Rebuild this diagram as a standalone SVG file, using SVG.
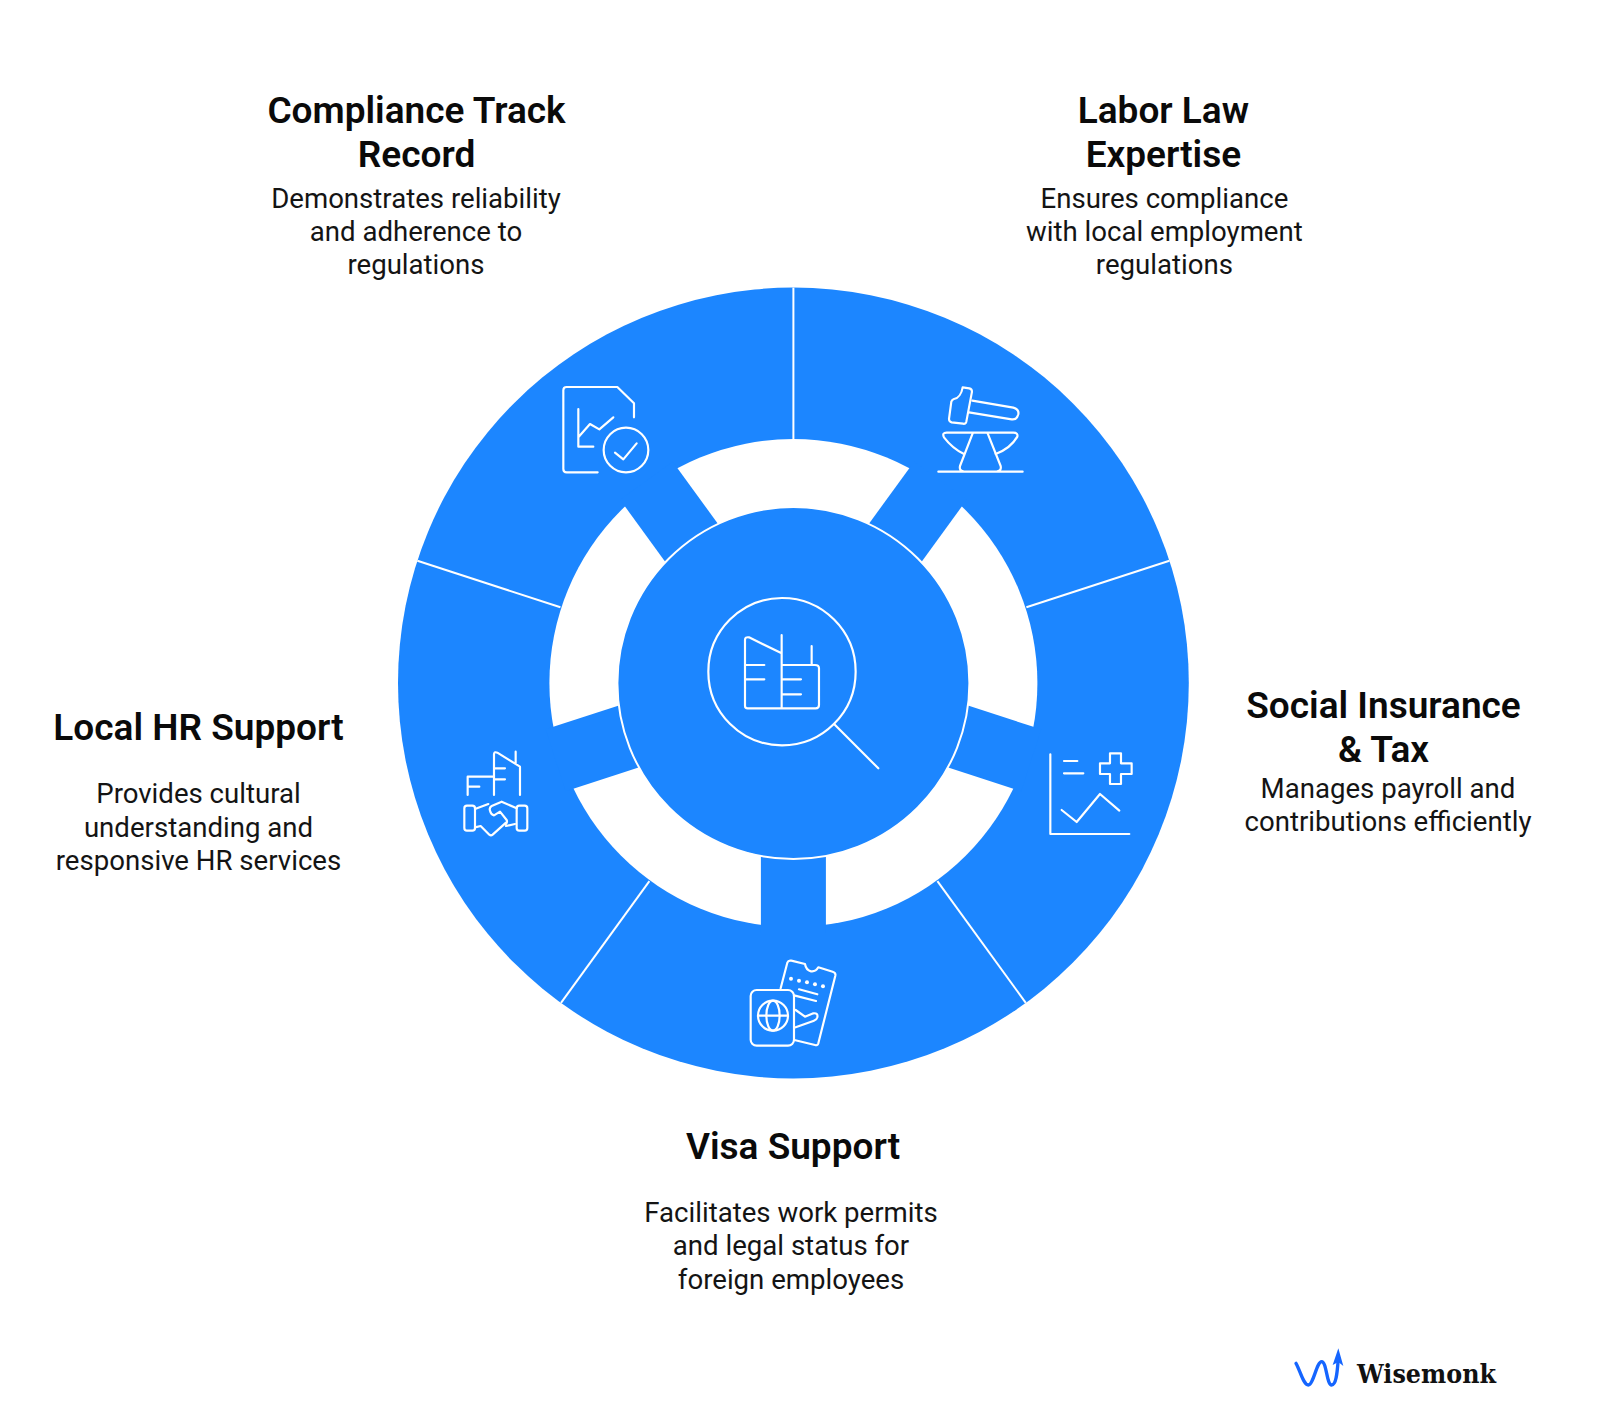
<svg xmlns="http://www.w3.org/2000/svg" width="1600" height="1426" viewBox="0 0 1600 1426">
<style>
.t{font-family:Roboto,"Liberation Sans",sans-serif;font-weight:600;font-size:37px;fill:#0a0a0a;text-anchor:middle}
.b{font-family:Roboto,"Liberation Sans",sans-serif;font-weight:400;font-size:27.6px;fill:#141414;text-anchor:middle}
.i{fill:none;stroke:#fff;stroke-width:6.5;stroke-linecap:round;stroke-linejoin:round}
.d{stroke:#fff;stroke-width:2;fill:none}
</style>
<rect width="1600" height="1426" fill="#fff"/>
<g id="wheel">
<circle cx="793.4" cy="683" r="395.4" fill="#1C86FF"/>
<circle cx="793.4" cy="683" r="244" fill="#fff"/>
</g>
<g id="connectors">
<g fill="#1C86FF">
<rect x="0" y="-32.5" width="250" height="65" transform="translate(793.4 683) rotate(-54)"/>
<rect x="0" y="-32.5" width="250" height="65" transform="translate(793.4 683) rotate(18)"/>
<rect x="0" y="-32.5" width="250" height="65" transform="translate(793.4 683) rotate(90)"/>
<rect x="0" y="-32.5" width="250" height="65" transform="translate(793.4 683) rotate(162)"/>
<rect x="0" y="-32.5" width="250" height="65" transform="translate(793.4 683) rotate(234)"/>
</g>
<g class="d">
<line x1="793.4" y1="287.6" x2="793.4" y2="440"/>
<line x1="1169.4" y1="560.8" x2="1026.4" y2="607.3"/>
<line x1="1025.8" y1="1002.9" x2="937.4" y2="881.2"/>
<line x1="561" y1="1002.9" x2="649.4" y2="881.2"/>
<line x1="417.4" y1="560.8" x2="560.4" y2="607.3"/>
</g>
</g>
<g id="hub">
<circle cx="793.4" cy="683" r="176" fill="#1C86FF" stroke="#fff" stroke-width="2"/>
<g class="i" transform="translate(680 580) scale(.3333)">
<circle cx="306" cy="275" r="221"/>
<path d="M463 433L595 565"/>
<path d="M305 385H203q-8 0-8-8V180q0-10 12-8L305 220M305 165V385M305 255H405q12 0 12 10V375q0 10-10 10H305M395 198V255M195 255H253M195 298H253M305 298H363M305 343H363"/>
</g>
</g>
<g id="node-compliance">
<g class="i" transform="translate(520 360) scale(.3333)">
<path d="M233 337H140q-10 0-10-10V91q0-10 10-10H292L342 130V172"/>
<path d="M175 147V260H220M175 232L210 192L238 208L280 172"/>
<circle cx="318" cy="270" r="67"/>
<path d="M285 278L310 298L350 250"/>
</g>
<text class="t"><tspan x="416.5" y="123">Compliance Track</tspan><tspan x="416.5" y="167">Record</tspan></text>
<text class="b"><tspan x="416" y="208">Demonstrates reliability</tspan><tspan x="416" y="241">and adherence to</tspan><tspan x="416" y="274">regulations</tspan></text>
</g>
<g id="node-labor">
<g class="i" transform="translate(900 360) scale(.3333)">
<path d="M188 82L208 85q8 2 8 10L199 185q-2 8-10 6L155 187q-8-2-8-10L154 125q2-6 8-8C175 115 185 100 188 82Z"/>
<path d="M217 122L340 143q18 5 15 20q-4 17-20 15L207 157"/>
<path d="M140 218H340q15 0 12 12q-20 35-65 52M140 218q-15 0-8 14q25 33 60 50"/>
<path d="M218 220L180 318q-3 14 10 16M263 220L302 318q3 14-10 16M115 335H368"/>
</g>
<text class="t"><tspan x="1163.4" y="123">Labor Law</tspan><tspan x="1163.4" y="167">Expertise</tspan></text>
<text class="b"><tspan x="1164.4" y="208">Ensures compliance</tspan><tspan x="1164.4" y="241">with local employment</tspan><tspan x="1164.4" y="274">regulations</tspan></text>
</g>
<g id="node-social">
<g class="i" transform="translate(1020 730) scale(.3333)">
<path d="M91 73V312H328M132 93H172M132 130H190"/>
<path d="M270 70H303V100H335V132H303V162H270V132H240V100H270Z"/>
<path d="M125 240L170 276L240 192L298 242"/>
</g>
<text class="t"><tspan x="1383.5" y="717.5">Social Insurance</tspan><tspan x="1383.5" y="761.5">&amp; Tax</tspan></text>
<text class="b"><tspan x="1388" y="798">Manages payroll and</tspan><tspan x="1388" y="831">contributions efficiently</tspan></text>
</g>
<g id="node-visa">
<g class="i" transform="translate(730 950) scale(.3333)">
<rect x="62" y="120" width="130" height="167" rx="18"/>
<circle cx="129" cy="197" r="45"/>
<ellipse cx="129" cy="197" rx="20" ry="45"/>
<path d="M84 197H174"/>
<path d="M152 115L172 38q3-8 12-6L225 42q3 18 18 22q14 2 22-12L308 65q10 3 8 12L265 280q-3 8-10 5L193 270"/>
<path d="M207 118L262 133M192 136L258 153M197 180L225 200L250 190q15-2 12 12q-2 8-10 10L197 232"/>
<g fill="#fff" stroke="none"><circle cx="183" cy="86" r="6"/><circle cx="207" cy="92" r="6"/><circle cx="231" cy="97" r="6"/><circle cx="255" cy="103" r="6"/><circle cx="279" cy="109" r="6"/></g>
</g>
<text class="t"><tspan x="793" y="1159">Visa Support</tspan></text>
<text class="b"><tspan x="791" y="1222">Facilitates work permits</tspan><tspan x="791" y="1255">and legal status for</tspan><tspan x="791" y="1289">foreign employees</tspan></text>
</g>
<g id="node-hr">
<g class="i" transform="translate(450 740) scale(.3333)">
<path d="M53 165V110H88M53 140H88M132 165V42q2-8 10-4L210 80V165M197 35V72M132 85H165M132 118H165M88 110H132"/>
<rect x="43" y="197" width="32" height="75" rx="8"/>
<rect x="200" y="197" width="32" height="75" rx="8"/>
<path d="M75 207L115 192M75 262L92 258L118 284q5 4 10 0L168 248M200 205L155 185L125 198q-8 5-5 14q3 12 12 14L150 215L170 240q3 8-3 12M168 258L195 252"/>
</g>
<text class="t"><tspan x="198.5" y="739.5">Local HR Support</tspan></text>
<text class="b"><tspan x="198.5" y="803">Provides cultural</tspan><tspan x="198.5" y="837">understanding and</tspan><tspan x="198.5" y="870">responsive HR services</tspan></text>
</g>
<g id="logo">
<g transform="translate(1280 1340) scale(.3333)">
<path d="M48 70C60 90 70 135 85 135C100 135 110 65 125 65C140 65 140 135 155 135C170 135 172 90 175 55" fill="none" stroke="#1565FF" stroke-width="10" stroke-linecap="round"/>
<path d="M175 25L190 78L175 66L158 75Z" fill="#1565FF"/>
</g>
<text x="1357" y="1383" font-family="'DejaVu Serif',serif" font-weight="700" font-size="25.5" textLength="139" lengthAdjust="spacingAndGlyphs" fill="#111">Wisemonk</text>
</g>
</svg>
